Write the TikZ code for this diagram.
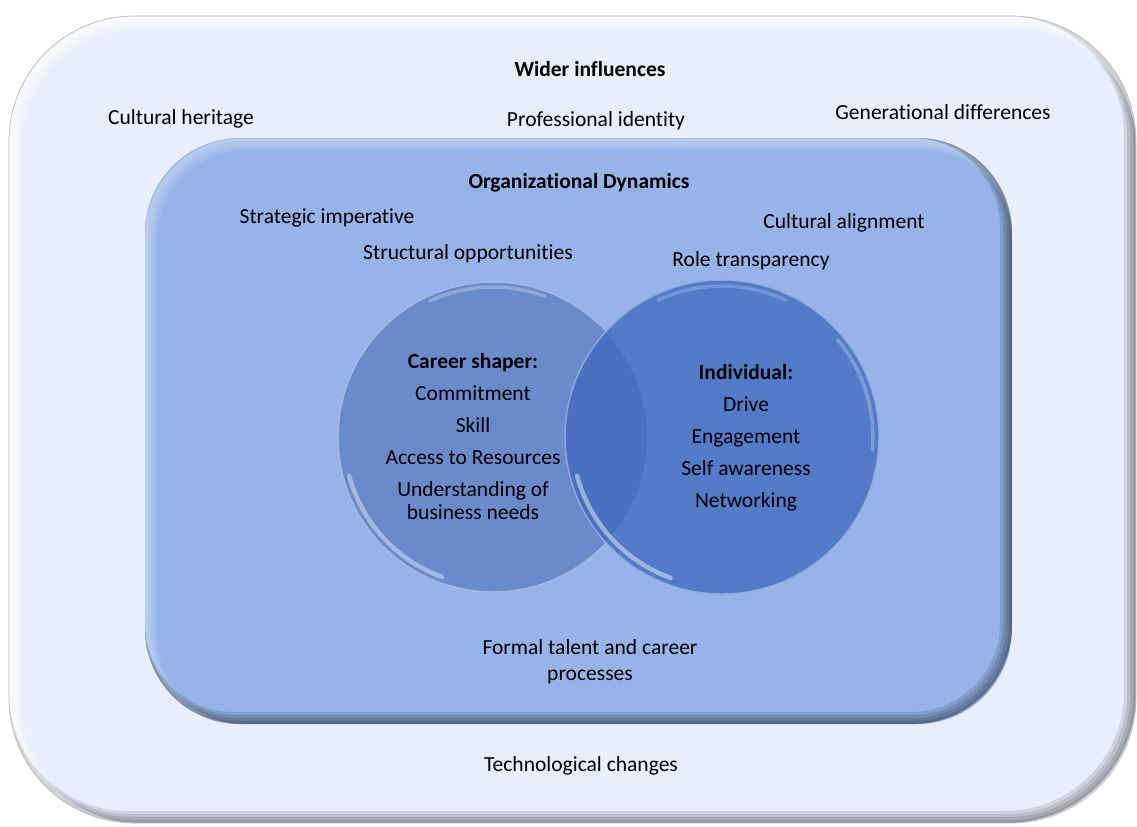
\documentclass[tikz,border=0pt]{standalone}
\usepackage{fontspec}
\setmainfont{Carlito}[Ligatures=NoCommon]
\definecolor{outerfill}{RGB}{233,238,252}
\definecolor{innerfill}{RGB}{150,180,232}
\definecolor{shaperfill}{RGB}{106,139,203}
\definecolor{indivfill}{RGB}{63,108,191}

\begin{document}
\begin{tikzpicture}[x=0.02cm, y=-0.02cm,
    txt/.style={font=\fontsize{12.25}{13}\selectfont, inner sep=0pt, align=center, anchor=base},
    title/.style={txt, font=\fontsize{12.25}{13}\selectfont\bfseries}]
  \useasboundingbox (0,0) rectangle (1137,826);

  % wider influences panel
  \fill[outerfill, rounded corners=2.5cm] (9,16) rectangle (1136,823);
  \begin{scope}
    \clip[rounded corners=2.5cm] (9,16) rectangle (1136,823);
    \foreach \w/\lw in {3/0.06cm, 6/0.12cm, 9/0.18cm, 12/0.24cm} {
      \draw[black, opacity=0.1, line width=\lw, rounded corners=2.5cm, shift={(-\w/2,-\w/2)}] (9,16) rectangle (1136,823);
      \draw[white, opacity=0.3, line width=\lw, rounded corners=2.5cm, shift={(\w/2,\w/2)}] (9,16) rectangle (1136,823);
    }
  \end{scope}
  \draw[gray!50, line width=0.4pt, rounded corners=2.5cm] (9,16) rectangle (1136,823);

  % organizational dynamics panel
  \fill[innerfill, rounded corners=1.9cm] (145,138) rectangle (1012,724);
  \begin{scope}
    \clip[rounded corners=1.9cm] (145,138) rectangle (1012,724);
    \foreach \w/\lw in {3/0.06cm, 6/0.12cm, 9/0.18cm, 12/0.24cm} {
      \draw[black, opacity=0.12, line width=\lw, rounded corners=1.9cm, shift={(-\w/2,-\w/2)}] (145,138) rectangle (1012,724);
      \draw[white, opacity=0.1, line width=\lw, rounded corners=1.9cm, shift={(\w/2,\w/2)}] (145,138) rectangle (1012,724);
    }
  \end{scope}

  % the two circles
  \node[circle, inner sep=0pt, minimum size=6.2cm, fill=shaperfill, draw=white!40!shaperfill, line width=0.8pt] (shaper) at (493,437) {};
  \draw[white, opacity=0.4, line width=2.5pt, line cap=round] (shaper.center) ++(195:2.98cm) arc[start angle=195, end angle=250, radius=2.98cm];
  \draw[white, opacity=0.25, line width=2pt, line cap=round] (shaper.center) ++(70:3.0cm) arc[start angle=70, end angle=115, radius=3.0cm];
  \node[circle, inner sep=0pt, minimum size=6.28cm, fill=indivfill, fill opacity=0.78, draw=white!45!indivfill, draw opacity=0.9, line width=0.8pt] (indiv) at (722,437) {};
  \draw[white, opacity=0.45, line width=2.5pt, line cap=round] (indiv.center) ++(195:3.0cm) arc[start angle=195, end angle=250, radius=3.0cm];
  \draw[white, opacity=0.25, line width=2pt, line cap=round] (indiv.center) ++(-5:3.02cm) arc[start angle=-5, end angle=40, radius=3.02cm];
  \draw[white, opacity=0.2, line width=2pt, line cap=round] (indiv.center) ++(65:3.02cm) arc[start angle=65, end angle=115, radius=3.02cm];

  % labels
  \node[title] (wider) at (590,76) {Wider influences};
  \node[txt] (heritage) at (181,124) {Cultural heritage};
  \node[txt] (profid) at (596,126) {Professional identity};
  \node[txt] (gendiff) at (943,119) {Generational differences};
  \node[title] (orgdyn) at (579,188) {Organizational Dynamics};
  \node[txt] (strat) at (327,223) {Strategic imperative};
  \node[txt] (culalign) at (844,228) {Cultural alignment};
  \node[txt] (structopp) at (468,259) {Structural opportunities};
  \node[txt] (roletrans) at (751,266) {Role transparency};
  \node[txt] (shapertxt) at (473,519) {\textbf{Career shaper:}\\[5.1pt] Commitment\\[5.1pt] Skill\\[5.1pt] Access to Resources\\[5.1pt] Understanding of\\ business needs};
  \node[txt] (indivtxt) at (746,507) {\textbf{Individual:}\\[5.1pt] Drive\\[5.1pt] Engagement\\[5.1pt] Self awareness\\[5.1pt] Networking};
  \node[txt] (formal) at (590,680) {Formal talent and career\\[1.7pt] processes};
  \node[txt] (tech) at (581,771) {Technological changes};
\end{tikzpicture}
\end{document}
